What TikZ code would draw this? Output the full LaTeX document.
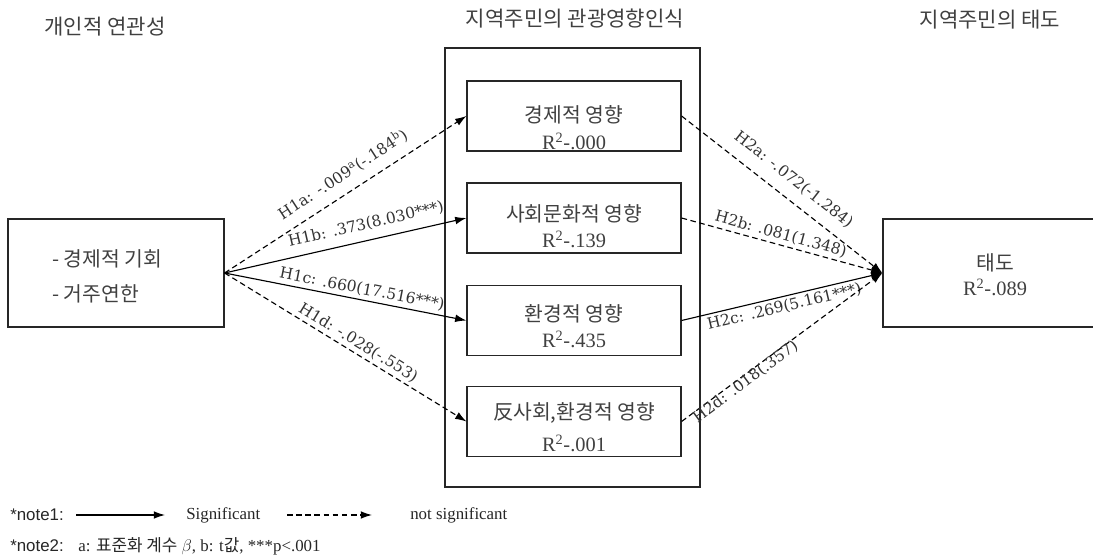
\documentclass[tikz,border=0pt]{standalone}
\usepackage{fontspec}
\setmainfont{Liberation Serif}
\newfontfamily\krfont{Noto Sans CJK KR}
\newfontfamily\hypfont{DejaVu Serif}
\newfontfamily\notefont{Liberation Sans}
\usetikzlibrary{arrows.meta}

\begin{document}
\begin{tikzpicture}[x=0.025cm, y=-0.025cm]
	\tikzstyle{box}=[draw=black!85, line width=0.8pt, inner sep=0pt]
	\tikzstyle{title}=[text=black!75, font=\krfont\fontsize{15}{17}\selectfont]
	\tikzstyle{boxtext}=[text=black!75, font=\fontsize{14.5}{17}\selectfont, align=center, inner sep=0pt]
	\tikzstyle{sig}=[line width=0.8pt, -{Latex[length=8pt, width=5.5pt]}]
	\tikzstyle{nsig}=[sig, dash pattern=on 4pt off 2.5pt]
	\tikzstyle{hyp}=[sloped, text=black!80, font=\hypfont\fontsize{11}{13}\selectfont, inner sep=2pt]
	\tikzstyle{note}=[text=black!85, font=\fontsize{12}{14}\selectfont, anchor=west, inner sep=0pt]

	\path[use as bounding box, clip] (0,0) rectangle (1093,558);

	% titles
	\node[title] (T1) at (105,27)	{개인적 연관성};
	\node[title] (T2) at (575,19)	{지역주민의 관광영향인식};
	\node[title] (T3) at (990,20)	{지역주민의 태도};

	% boxes
	\node[box, minimum width=5.4cm, minimum height=2.7cm] (P) at (116,273) {};
	\node[boxtext, anchor=west, align=left] (Pt) at (52,276)	{\krfont - 경제적 기회\\[8pt]\krfont - 거주연한};

	\node[box, minimum width=6.375cm, minimum height=10.975cm] (M) at (572.5,267.5) {};

	\node[box, minimum width=5.35cm, minimum height=1.75cm] (I1) at (574,116) {};
	\node[box, minimum width=5.35cm, minimum height=1.75cm] (I2) at (574,218) {};
	\node[box, minimum width=5.35cm, minimum height=1.75cm] (I3) at (574,320.5) {};
	\node[box, minimum width=5.35cm, minimum height=1.75cm] (I4) at (574,421.5) {};

	\node[boxtext] (I1t) at (574,128)	{{\krfont 경제적 영향}\\[2pt]R\textsuperscript{2}-.000};
	\node[boxtext] (I2t) at (574,226)	{{\krfont 사회문화적 영향}\\[2pt]R\textsuperscript{2}-.139};
	\node[boxtext] (I3t) at (574,326)	{{\krfont 환경적 영향}\\[2pt]R\textsuperscript{2}-.435};
	\node[boxtext] (I4t) at (574,427)	{{\krfont 反사회,환경적 영향}\\[6pt]R\textsuperscript{2}-.001};

	\node[box, minimum width=5.675cm, minimum height=2.7cm] (A) at (996.5,273) {};
	\node[boxtext] (At) at (995,275)	{{\krfont 태도}\\[1pt]R\textsuperscript{2}-.089};

	% paths
	\draw[nsig] (P.east) -- (I1.west) node[hyp, above=5pt, pos=0.53] {H1a: -.009\textsuperscript{a}(-.184\textsuperscript{b})};
	\draw[sig] (P.east) -- (I2.west) node[hyp, above=4pt, pos=0.6] {H1b: .373(8.030***)};
	\draw[sig] (P.east) -- (I3.west) node[hyp, above, pos=0.56] {H1c: .660(17.516***)};
	\draw[nsig] (P.east) -- (I4.west) node[hyp, above, pos=0.53] {H1d: -.028(-.553)};

	\draw[nsig] (I1.east) -- (A.west) node[hyp, above=6pt, pos=0.5] {H2a: -.072(-1.284)};
	\draw[nsig] (I2.east) -- (A.west) node[hyp, above, pos=0.48] {H2b: .081(1.348)};
	\draw[sig] (I3.east) -- (A.west) node[hyp, below, pos=0.5] {H2c: .269(5.161***)};
	\draw[nsig] (I4.east) -- (A.west) node[hyp, below=-3pt, pos=0.3] {H2d: .018(.357)};

	% notes
	\node[note, font=\notefont\fontsize{12}{14}\selectfont] (N1) at (10,515)	{*note1:};
	\coordinate (s1) at (76,515);
	\coordinate (s2) at (165,515);
	\draw[sig] (s1) -- (s2);
	\node[note] (sigt) at (186,515)	{Significant};
	\coordinate (d1) at (287,515);
	\coordinate (d2) at (372,515);
	\draw[nsig] (d1) -- (d2);
	\node[note] (nsigt) at (410,515)	{not significant};

	\node[note, font=\notefont\fontsize{12}{14}\selectfont] (N2) at (10,546)	{*note2:};
	\node[note] (N2t) at (78,546)	{a: {\krfont 표준화 계수} $\beta$, b: t{\krfont 값}, ***p<.001};
\end{tikzpicture}
\end{document}
